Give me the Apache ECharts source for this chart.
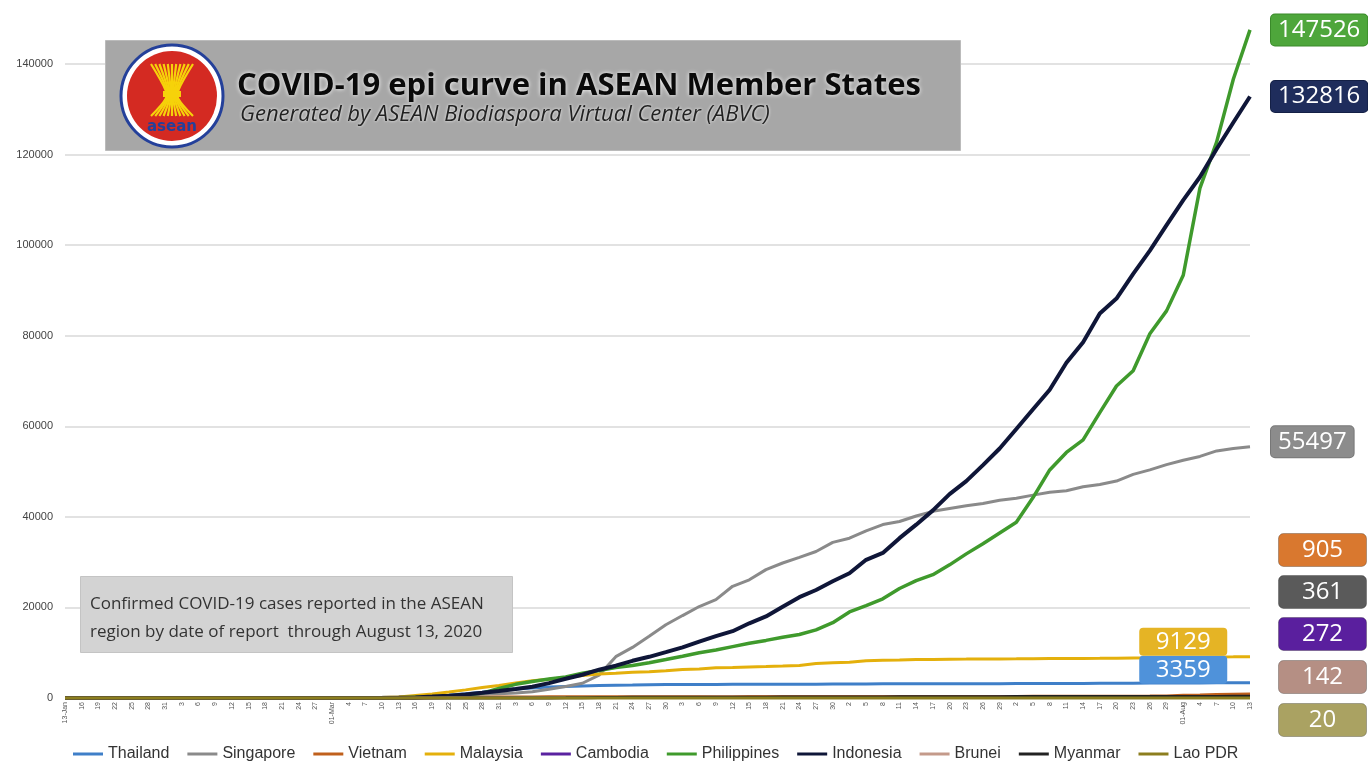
<!DOCTYPE html>
<html lang="en">
<head>
    <meta charset="UTF-8">
    <title>COVID-19 epi curve in ASEAN Member States</title>
    <script src="https://cdn.jsdelivr.net/npm/echarts@6/dist/echarts.min.js"></script>
    <style>
        body { margin: 0; padding: 0; background: #fff; }
        #chart { width: 1368px; height: 770px; }
    </style>
</head>
<body>
    <div id="chart"></div>
    <script>
        // report dates, every third day from 13 Jan to 13 Aug 2020
        var dates = [
            '13-Jan','16-Jan','19-Jan','22-Jan','25-Jan','28-Jan','31-Jan',
            '03-Feb','06-Feb','09-Feb','12-Feb','15-Feb','18-Feb','21-Feb','24-Feb','27-Feb',
            '01-Mar','04-Mar','07-Mar','10-Mar','13-Mar','16-Mar','19-Mar','22-Mar','25-Mar','28-Mar','31-Mar',
            '03-Apr','06-Apr','09-Apr','12-Apr','15-Apr','18-Apr','21-Apr','24-Apr','27-Apr','30-Apr',
            '03-May','06-May','09-May','12-May','15-May','18-May','21-May','24-May','27-May','30-May',
            '02-Jun','05-Jun','08-Jun','11-Jun','14-Jun','17-Jun','20-Jun','23-Jun','26-Jun','29-Jun',
            '02-Jul','05-Jul','08-Jul','11-Jul','14-Jul','17-Jul','20-Jul','23-Jul','26-Jul','29-Jul',
            '01-Aug','04-Aug','07-Aug','10-Aug','13-Aug'
        ];

        var thailand = [1,1,2,4,7,14,19,19,25,32,33,34,35,35,37,40,
            42,43,50,53,75,147,272,599,934,1245,1651,
            1978,2220,2423,2551,2643,2733,2811,2854,2922,2954,
            2969,2989,3004,3017,3025,3031,3037,3042,3054,3077,
            3083,3104,3121,3125,3134,3141,3148,3157,3162,3171,
            3179,3185,3197,3217,3227,3236,3250,3254,3291,3297,
            3317,3330,3345,3351,3359];
        var singapore = [0,0,0,0,4,7,16,18,30,43,50,72,77,86,90,96,
            106,112,130,160,200,243,345,455,631,802,926,
            1114,1375,1910,2532,3252,5050,9125,11178,13624,16169,
            18205,20198,21707,24671,26098,28343,29812,31068,32343,34366,
            35292,36922,38296,38965,40197,41216,41833,42432,42955,43661,
            44122,44800,45423,45783,46630,47126,47912,49375,50369,51531,
            52512,53346,54555,55104,55497];
        var vietnam = [0,0,0,0,2,2,5,8,12,14,15,16,16,16,16,16,
            16,16,18,31,47,61,85,113,141,174,207,
            237,245,255,262,267,268,268,270,270,270,
            271,271,288,288,314,318,324,325,327,328,
            328,328,332,332,334,342,349,349,352,355,
            355,369,369,370,372,382,383,412,420,446,
            590,652,750,847,905];
        var malaysia = [0,0,0,0,3,4,8,8,12,17,18,22,22,22,22,23,
            29,50,93,129,197,553,900,1306,1796,2320,2766,
            3333,3793,4119,4530,4987,5305,5482,5691,5820,6002,
            6298,6428,6656,6742,6855,6941,7059,7185,7604,7762,
            7877,8247,8329,8369,8494,8529,8572,8590,8616,8639,
            8648,8674,8696,8718,8737,8755,8779,8840,8884,8956,
            8999,9023,9063,9094,9129];
        var cambodia = [0,0,0,0,0,1,1,1,1,1,1,1,1,1,1,1,
            1,1,2,3,5,12,47,84,91,103,109,
            114,115,117,120,122,122,122,122,122,122,
            122,122,122,122,122,122,124,124,124,125,
            125,125,126,126,128,128,129,130,130,141,
            141,141,141,156,165,171,197,202,225,226,
            239,243,247,266,272];
        var philippines = [0,0,0,0,0,0,1,2,3,3,3,3,3,3,3,3,
            3,3,5,33,64,142,217,380,636,1075,2084,
            3018,3660,4195,4648,5453,6087,6716,7192,7777,8488,
            9223,10004,10610,11350,12091,12718,13434,14035,15049,16634,
            18997,20382,21895,24175,25930,27238,29400,31825,34073,36438,
            38805,44254,50359,54222,57006,63001,68898,72269,80448,85486,
            93354,112593,122754,136638,147526];
        var indonesia = [0,0,0,0,0,0,0,0,0,0,0,0,0,0,0,0,
            0,2,4,27,69,134,309,514,790,1155,1528,
            1986,2491,3293,4241,5136,6248,7135,8211,9096,10118,
            11192,12438,13645,14749,16496,18010,20162,22271,23851,25773,
            27549,30514,32033,35295,38277,41431,45029,47896,51427,55092,
            59394,63749,68079,74018,78572,84882,88214,93657,98778,104432,
            109936,115056,121226,127083,132816];
        var brunei = [0,0,0,0,0,0,0,0,0,0,0,0,0,0,0,0,
            0,0,0,1,11,54,73,88,105,115,127,
            131,135,135,136,136,137,138,138,138,138,
            138,138,141,141,141,141,141,141,141,141,
            141,141,141,141,141,141,141,141,141,141,
            141,141,141,141,141,141,141,141,141,141,
            141,141,141,141,142];
        var myanmar = [0,0,0,0,0,0,0,0,0,0,0,0,0,0,0,0,
            0,0,0,0,0,0,0,0,3,8,15,
            20,22,23,41,74,98,119,144,146,150,
            151,161,177,180,181,184,199,201,206,224,
            228,236,242,261,262,263,287,291,293,303,
            309,316,317,321,331,336,339,341,350,353,
            353,356,358,360,361];
        var lao = [0,0,0,0,0,0,0,0,0,0,0,0,0,0,0,0,
            0,0,0,0,0,0,0,0,3,6,9,
            10,11,15,19,19,19,19,19,19,19,
            19,19,19,19,19,19,19,19,19,19,
            19,19,19,19,19,19,19,19,19,19,
            19,19,19,19,19,19,19,19,19,19,
            20,20,20,20,20];

        var countries = ['Thailand','Singapore','Vietnam','Malaysia','Cambodia','Philippines','Indonesia','Brunei','Myanmar','Lao PDR'];
        var values = [thailand, singapore, vietnam, malaysia, cambodia, philippines, indonesia, brunei, myanmar, lao];
        var colors = ['#3f7fc8','#8a8a8a','#c0601c','#e4b00c','#5a22a0','#3f9a2c','#0f1638','#c49a8a','#222222','#8c7e1e'];
        var widths = [3, 3, 3, 3, 3, 3.5, 4, 3, 3, 3];

        var last = function (arr) { return arr[arr.length - 1]; };

        var chart = echarts.init(document.getElementById('chart'));

        function boxLabel(bg, border, dx, dy) {
            return {
                show: true,
                formatter: function (p) { return String(p.value); },
                distance: 21,
                offset: [dx || 0, dy || 0],
                color: '#fff',
                fontSize: 24,
                fontFamily: 'Open Sans',
                backgroundColor: bg,
                borderColor: border,
                borderWidth: 1,
                borderRadius: 4,
                padding: [4, 7, 3, 7]
            };
        }

        var series = countries.map(function (name, i) {
            var s = {
                name: name,
                type: 'line',
                data: values[i],
                symbol: 'none',
                clip: false,
                lineStyle: { color: colors[i], width: widths[i] },
                itemStyle: { color: colors[i] },
                emphasis: { disabled: true }
            };
            if (name === 'Philippines') s.endLabel = boxLabel('#4ea63b', '#3a8a2a');
            if (name === 'Indonesia') s.endLabel = boxLabel('#1f2d5c', '#142046');
            if (name === 'Singapore') s.endLabel = boxLabel('#8c8c8c', '#777', 0, -5);
            if (name === 'Malaysia' || name === 'Thailand') {
                s.markPoint = {
                    symbol: 'path://M4,0 L84,0 Q88,0 88,4 L88,24 Q88,28 84,28 L4,28 Q0,28 0,24 L0,4 Q0,0 4,0 Z',
                    symbolSize: [88, 28],
                    symbolKeepAspect: false,
                    symbolOffset: [0, name === 'Malaysia' ? -15 : -13],
                    itemStyle: { color: name === 'Malaysia' ? '#e5b425' : '#4f92da' },
                    label: { show: true, color: '#fff', fontSize: 24, fontFamily: 'Open Sans',
                        formatter: function (p) { return String(p.value); } },
                    data: [{ coord: [dates[67], last(values[i])], value: last(values[i]) }]
                };
            }
            return s;
        });

        // stacked value boxes for the small counts
        var stack = [
            { v: last(vietnam), c: '#d9782f' },
            { v: last(myanmar), c: '#5a5a5a' },
            { v: last(cambodia), c: '#5a1f9e' },
            { v: last(brunei), c: '#b58f84' },
            { v: last(lao), c: '#aaa262' }
        ];
        var stackTops = [533, 575, 617, 660, 703];
        var stackGraphics = stack.map(function (b, i) {
            return {
                type: 'group', left: 1278, top: stackTops[i],
                children: [
                    { type: 'rect', shape: { x: 0, y: 0, width: 88, height: 33, r: 5 },
                      style: { fill: b.c, stroke: 'rgba(0,0,0,0.25)', lineWidth: 1 } },
                    { type: 'text', x: 44, y: 17,
                      style: { text: String(b.v), fill: '#fff', font: '24px "Open Sans"', align: 'center', verticalAlign: 'middle' } }
                ]
            };
        });

        // ASEAN logo, drawn as plain shapes
        var cx = 172, cy = 96;
        var logo = [
            { type: 'circle', z: 11, shape: { cx: cx, cy: cy, r: 51 }, style: { fill: '#fff', stroke: '#24409a', lineWidth: 3 } },
            { type: 'circle', z: 11, shape: { cx: cx, cy: cy, r: 45 }, style: { fill: '#d42a22' } }
        ];
        for (var k = -5; k <= 5; k++) {
            logo.push({
                type: 'polyline', z: 12,
                shape: { points: [[cx + k * 4.2, cy - 32], [cx + k * 1.3, cy - 6], [cx + k * 1.3, cy + 3], [cx + k * 4.2, cy + 20]], smooth: 0.3 },
                style: { stroke: '#f6d20a', lineWidth: 2.2, fill: null }
            });
        }
        logo.push({ type: 'rect', z: 12, shape: { x: cx - 9, y: cy - 5, width: 18, height: 6 }, style: { fill: '#f6d20a' } });
        logo.push({ type: 'text', z: 12, x: cx, y: cy + 31,
            style: { text: 'asean', fill: '#24409a', font: 'bold 15px "DejaVu Sans"', align: 'center', verticalAlign: 'middle' } });

        var option = {
            animation: false,
            backgroundColor: '#fff',
            grid: { left: 65, right: 118, top: 64, bottom: 72 },
            legend: {
                data: countries,
                icon: 'rect',
                left: 68, bottom: 3,
                itemWidth: 30, itemHeight: 3, itemGap: 18,
                textStyle: { fontSize: 16, color: '#333', fontFamily: 'Liberation Sans' }
            },
            xAxis: {
                type: 'category',
                data: dates,
                boundaryGap: false,
                axisLine: { show: false },
                axisTick: { show: false },
                axisLabel: {
                    interval: 0, rotate: 90, fontSize: 7, color: '#555', margin: 4,
                    formatter: function (v, i) {
                        if (i === 0 || v.indexOf('01-') === 0) return v;
                        return String(parseInt(v, 10));
                    }
                }
            },
            yAxis: {
                type: 'value',
                min: 0, max: 140000, interval: 20000,
                axisLine: { show: false },
                axisTick: { show: false },
                axisLabel: { fontSize: 11, color: '#444', margin: 12, fontFamily: 'Liberation Sans',
                    formatter: function (v) { return String(v); } },
                splitLine: { lineStyle: { color: '#d9d9d9', width: 1.5 } }
            },
            series: series,
            graphic: [
                { type: 'rect', left: 105, top: 40, shape: { width: 855, height: 110 },
                  style: { fill: '#a7a7a7', stroke: '#bbb', lineWidth: 1 }, z: 10 },
                { type: 'group', z: 12, children: logo },
                { type: 'text', x: 237, y: 86, z: 12,
                  style: { text: 'COVID-19 epi curve in ASEAN Member States', fill: '#0a0a0a', font: 'bold 31px "Open Sans"',
                           verticalAlign: 'middle', textShadowColor: '#fff', textShadowBlur: 4 } },
                { type: 'text', x: 240, y: 115, z: 12,
                  style: { text: 'Generated by ASEAN Biodiaspora Virtual Center (ABVC)', fill: '#222', font: 'italic 22px "Open Sans"',
                           verticalAlign: 'middle', textShadowColor: '#fff', textShadowBlur: 3 } },
                { type: 'rect', left: 80, top: 576, shape: { width: 432, height: 76 },
                  style: { fill: '#d3d3d3', stroke: '#c4c4c4', lineWidth: 1 }, z: 10 },
                { type: 'text', x: 90, y: 604, z: 11,
                  style: { text: 'Confirmed COVID-19 cases reported in the ASEAN', fill: '#333', font: '17px "Open Sans"', verticalAlign: 'middle' } },
                { type: 'text', x: 90, y: 632, z: 11,
                  style: { text: 'region by date of report  through August 13, 2020', fill: '#333', font: '17px "Open Sans"', verticalAlign: 'middle' } }
            ].concat(stackGraphics)
        };

        chart.setOption(option);
    </script>
</body>
</html>
